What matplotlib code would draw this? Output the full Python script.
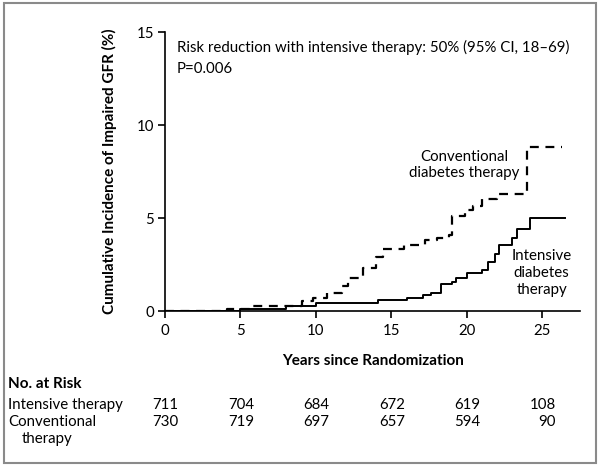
import numpy as np
import matplotlib.pyplot as plt
from matplotlib.patches import Rectangle
from matplotlib.transforms import blended_transform_factory

plt.rcParams['font.family'] = ['Lato', 'DejaVu Sans']

# Kaplan-Meier style cumulative incidence
int_years = [0, 5.0, 8.0, 10.0, 14.1, 16.0, 17.1, 17.65, 18.3, 19.0, 19.3,
             20.0, 21.0, 21.4, 21.85, 22.1, 23.0, 23.3, 24.2, 26.5]
int_pct = [0, 0.13, 0.27, 0.41, 0.58, 0.72, 0.86, 0.99, 1.44, 1.57, 1.75,
           2.04, 2.22, 2.61, 3.06, 3.56, 3.95, 4.4, 5.0, 5.0]

conv_years = [0, 4.1, 5.6, 9.05, 9.8, 10.7, 11.7, 12.1, 13.1, 14.0, 14.45,
              15.8, 17.2, 18.0, 18.8, 19.0, 19.9, 20.4, 21.0, 22.0, 24.0, 26.3]
conv_pct = [0, 0.13, 0.27, 0.55, 0.72, 0.95, 1.35, 1.75, 2.3, 2.9, 3.35,
            3.55, 3.8, 3.95, 4.1, 5.1, 5.45, 5.62, 6.0, 6.3, 8.8, 8.8]

risk_years = [0, 5, 10, 15, 20, 25]
risk_intensive = [711, 704, 684, 672, 619, 108]
risk_conventional = [730, 719, 697, 657, 594, 90]

fig = plt.figure(figsize=(6, 4.66), dpi=100)
ax = fig.add_axes([0.275, 0.3326, 0.692, 0.5987])

ax.plot(int_years, int_pct, drawstyle="steps-post", color="k", lw=1.4)
ax.plot(conv_years, conv_pct, drawstyle="steps-post", color="k", lw=1.6,
        ls=(0, (4, 3)))

ax.set_xlim(0, 27.5)
ax.set_ylim(0, 15)
ax.set_xticks(risk_years)
ax.set_yticks([0, 5, 10, 15])
for s in ["top", "right"]:
    ax.spines[s].set_visible(False)
for s in ["left", "bottom"]:
    ax.spines[s].set_linewidth(1.2)
ax.tick_params(labelsize=10.8, width=1.2, length=5, pad=3)
ax.tick_params(axis="x", pad=4)

ax.set_xlabel("Years since Randomization", fontsize=11, fontweight="bold",
              labelpad=12)
ax.set_ylabel("Cumulative Incidence of Impaired GFR (%)", fontsize=11,
              fontweight="bold", labelpad=14)

ax.text(0.8, 14.15, "Risk reduction with intensive therapy: 50% (95% CI, 18\u201369)",
        fontsize=10.8, va="center")
ax.text(0.8, 13.0, "P=0.006", fontsize=10.8, va="center")
ax.text(19.8, 7.85, "Conventional\ndiabetes therapy", fontsize=10.8,
        ha="center", va="center", linespacing=1.25)
ax.text(24.95, 2.05, "Intensive\ndiabetes\ntherapy", fontsize=10.8,
        ha="center", va="center", linespacing=1.25)

# number at risk table
tr = blended_transform_factory(ax.transData, fig.transFigure)
fig.text(8 / 600, 1 - 384 / 466, "No. at Risk", fontsize=11,
         fontweight="bold", va="center")
fig.text(8 / 600, 1 - 405 / 466, "Intensive therapy", fontsize=10.8,
         va="center")
fig.text(8 / 600, 1 - 422 / 466, "Conventional", fontsize=10.8, va="center")
fig.text(22 / 600, 1 - 439 / 466, "therapy", fontsize=10.8, va="center")
for x, a, b in zip(risk_years, risk_intensive, risk_conventional):
    ax.text(x + 0.9, 1 - 405 / 466, str(a), transform=tr, fontsize=10.8,
            ha="right", va="center")
    ax.text(x + 0.9, 1 - 422 / 466, str(b), transform=tr, fontsize=10.8,
            ha="right", va="center")

fig.patches.append(Rectangle((0.006, 0.006), 0.988, 0.988,
                             transform=fig.transFigure, fill=False,
                             edgecolor="#8a8a8a", lw=1.5))

fig.savefig("out.png", dpi=100)
